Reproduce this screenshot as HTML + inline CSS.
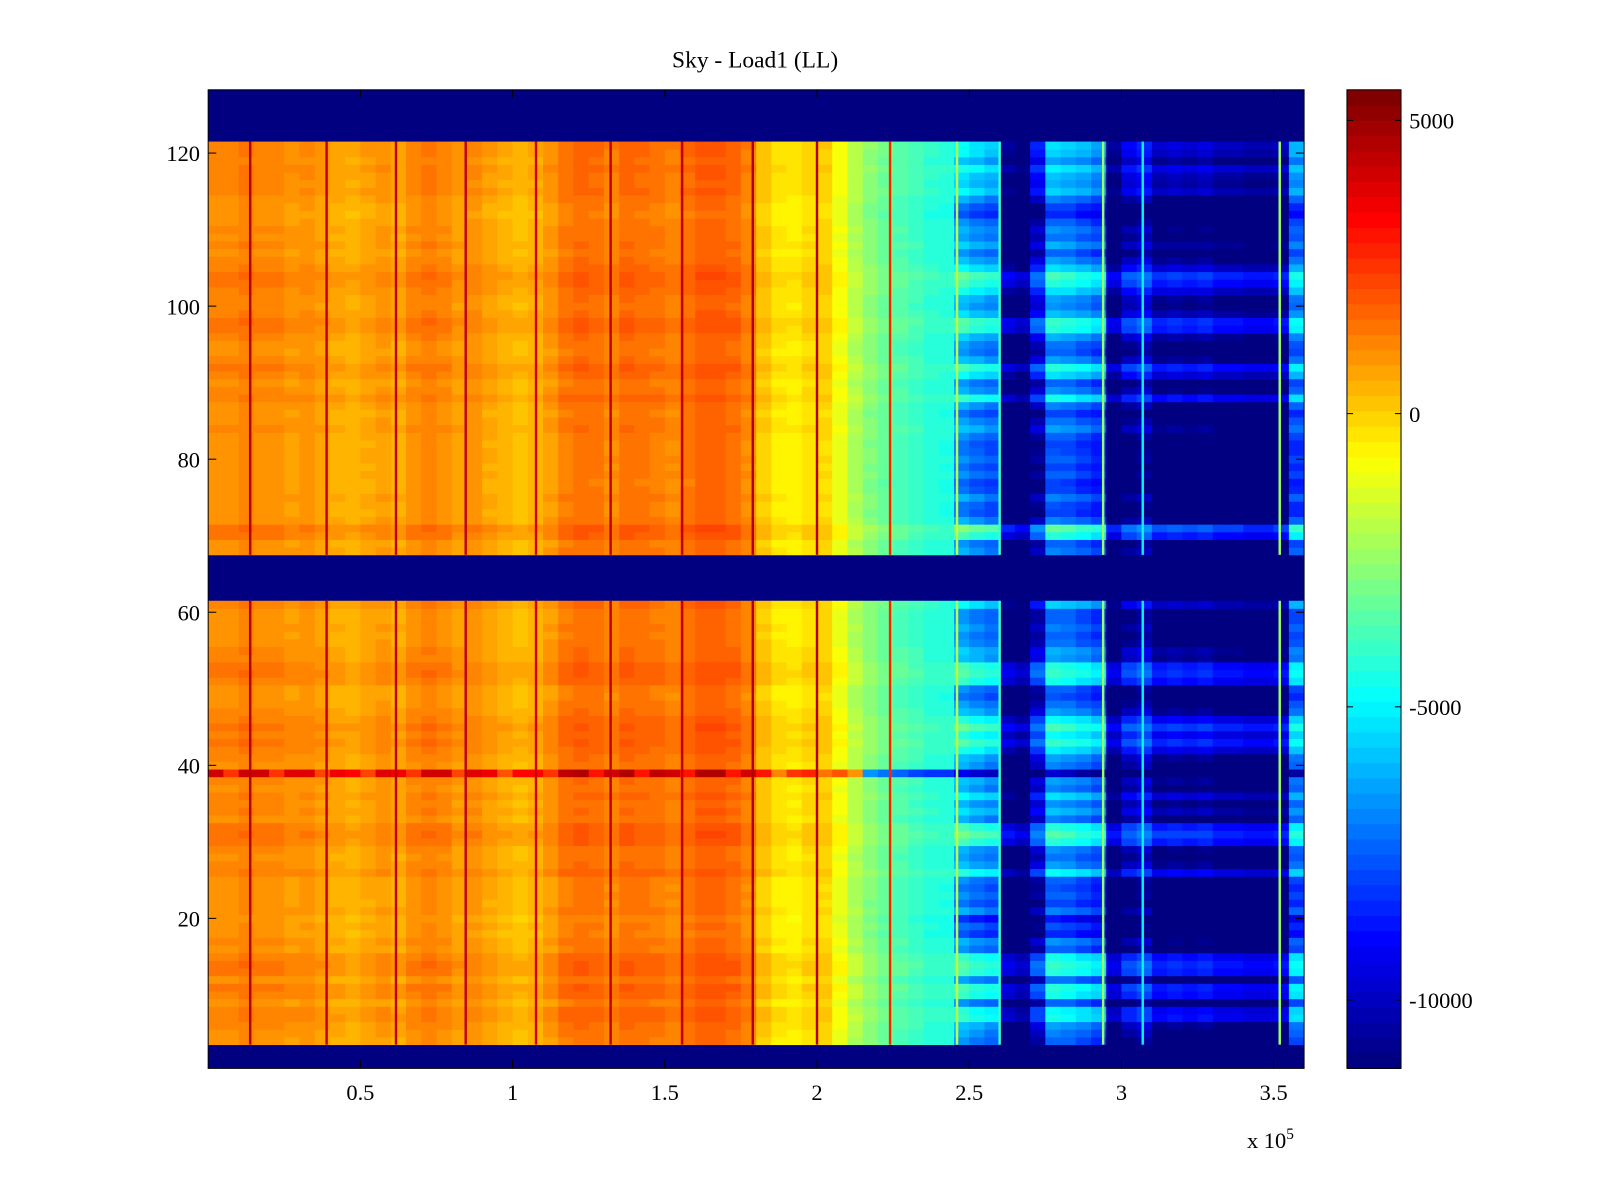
<!DOCTYPE html>
<html><head><meta charset="utf-8"><style>
html,body{margin:0;padding:0;background:#fff;}
svg{display:block;font-family:"Liberation Serif",serif;}
</style></head><body>
<svg id="chart" width="1600" height="1200" viewBox="0 0 1568 1176" preserveAspectRatio="none" xmlns="http://www.w3.org/2000/svg">
<rect width="1568" height="1176" fill="#fff"/>
<text x="740" y="66" font-size="23" text-anchor="middle">Sky - Load1 (LL)</text>
<g id="cells"></g>
<g id="stripes"></g>
<rect x="204" y="88" width="1074" height="959" fill="none" stroke="#000" stroke-width="1"/>
<g id="axes"></g>
<g id="cbar"></g>
<text x="1222" y="1125" font-size="22">x 10<tspan dy="-9" font-size="15">5</tspan></text>
</svg>
<script>
// x bins: 72 columns of 0.05e5 starting at 0
const colBase = [1200,1200,1400,1200,1200,1000,1100,900,700,600,800,1000,700,1200,1400,1200,900,1100,800,600,400,600,1000,1500,1700,1600,1300,1700,1600,1500,1300,1600,1900,1900,1700,1300,200,-300,-400,-100,0,-900,-1900,-2600,-3100,-3500,-3800,-4100,-4200,-5200,-5700,-6000,-11000,-11500,-9000,-5800,-6000,-6400,-6800,-11000,-9500,-9000,-10200,-10000,-10200,-10000,-10500,-10500,-10800,-10800,-10500,-6500];
// row offsets, index 0 => row 1 ... index 127 => row 128; null = no data
const rowOffset = [null,null,null,-1500,-1000,-500,1200,1000,-1500,1200,1500,-1200,1500,1800,1200,-1500,-800,-2500,-1800,-3000,-1000,-2000,-1500,-1800,-1500,1000,-600,-1200,-800,1500,2200,1500,-1000,0,-800,500,-1000,-500,-4000,-1000,-500,800,1800,1000,2000,1000,-500,-1200,-1800,-1500,1200,1800,1500,-500,-300,-1200,-1500,-1000,-1500,-1500,300,null,null,null,null,null,null,-1000,-1500,1500,2500,-1000,-2000,-1800,-1000,-2000,-2200,-1500,-2000,-1500,-1800,-2000,-1500,-500,-1200,-2000,-1000,1200,-800,-1500,500,1500,-500,-1500,-1200,-300,1500,1800,0,-800,-500,600,1500,2000,500,-600,-1500,-400,-1200,-800,-1500,-2500,-2000,-1000,300,-300,0,800,-500,300,500,null,null,null,null,null,null,null];
// accent rows (hot row on the left region)
const rowAccent = {39: 2800};
// thin vertical stripes: x position (x 10^5) and value
const stripeX = [0.138,0.389,0.617,0.846,1.077,1.322,1.557,1.789,2.0,2.24,2.46,2.60,2.94,3.07,3.52];
const stripeVal = [4500,4300,4300,4300,4200,4300,4300,4700,4500,2800,-2000,-4000,-2500,-5000,-2500];
const xTicks = [0.5,1,1.5,2,2.5,3,3.5];
const yTicks = [20,40,60,80,100,120];
const cbTicks = [5000,0,-5000,-10000];
const cMin = -11165, cMax = 5522;

const NS = "http://www.w3.org/2000/svg";
const X0 = 204, X1 = 1278, Y0 = 88, Y1 = 1047;
const xScale = v => X0 + v / 3.6 * (X1 - X0);
const yScale = v => 1050 - v * 7.5;
const cScale = v => Y1 - (v - cMin) / (cMax - cMin) * (Y1 - Y0);
function jet(v) {
  let f = (v - cMin) / (cMax - cMin);
  f = Math.max(0, Math.min(1, f));
  f = Math.min(63, Math.floor(f * 64)) / 63;
  const cl = t => Math.round(255 * Math.max(0, Math.min(1, t)));
  return `rgb(${cl(1.5 - Math.abs(4 * f - 3))},${cl(1.5 - Math.abs(4 * f - 2))},${cl(1.5 - Math.abs(4 * f - 1))})`;
}
function mk(tag, attrs, parent) {
  const e = document.createElementNS(NS, tag);
  for (const k in attrs) e.setAttribute(k, attrs[k]);
  parent.appendChild(e);
  return e;
}
const cells = document.getElementById('cells');
mk('rect', {x: X0, y: Y0, width: X1 - X0, height: Y1 - Y0, fill: jet(cMin)}, cells);
for (let r = 0; r < rowOffset.length; r++) {
  const off = rowOffset[r];
  if (off === null) continue;
  const row = r + 1;
  const acc = rowAccent[row] || 0;
  const yTop = Math.max(Y0, yScale(row + 0.5)), yBot = Math.min(Y1, yScale(row - 0.5));
  for (let c = 0; c < colBase.length; c++) {
    const b = colBase[c];
    let v = b + off * (b < -5000 ? 1 : 0.12);
    if (acc && b > -2000) v = b + acc * (c % 3 === 1 ? 0.5 : 1);
    if (acc && b <= -2000) v = b + off;
    const xa = xScale(c * 0.05), xb = xScale((c + 1) * 0.05);
    const el = mk('rect', {x: xa.toFixed(2), y: yTop.toFixed(2), width: (xb - xa + 0.4).toFixed(2), height: (yBot - yTop + 0.4).toFixed(2), fill: jet(v)}, cells);
    
    
  }
}
const stripes = document.getElementById('stripes');
const bands = [[3.5, 61.5], [67.5, 121.5]];
for (let i = 0; i < stripeX.length; i++) {
  for (const bd of bands) {
    const el = mk('rect', {x: (xScale(stripeX[i]) - 1.2).toFixed(2), y: yScale(bd[1]).toFixed(2), width: 2.4, height: (yScale(bd[0]) - yScale(bd[1])).toFixed(2), fill: jet(stripeVal[i])}, stripes);
    
    
  }
}
const axes = document.getElementById('axes');
for (const t of xTicks) {
  const x = xScale(t);
  mk('line', {x1: x, x2: x, y1: Y1, y2: Y1 - 8, stroke: '#000'}, axes);
  mk('line', {x1: x, x2: x, y1: Y0, y2: Y0 + 8, stroke: '#000'}, axes);
  const tx = mk('text', {x: x, y: 1078, 'font-size': 22, 'text-anchor': 'middle'}, axes);
  tx.textContent = t;
  
  
}
for (const t of yTicks) {
  const y = yScale(t);
  mk('line', {x1: X0, x2: X0 + 8, y1: y, y2: y, stroke: '#000'}, axes);
  mk('line', {x1: X1, x2: X1 - 8, y1: y, y2: y, stroke: '#000'}, axes);
  const tx = mk('text', {x: 196, y: y + 8, 'font-size': 22, 'text-anchor': 'end'}, axes);
  tx.textContent = t;
  
  
}
const cbar = document.getElementById('cbar');
const CX0 = 1320, CX1 = 1373;
for (let i = 0; i < 64; i++) {
  const va = cMin + i / 64 * (cMax - cMin), vb = cMin + (i + 1) / 64 * (cMax - cMin);
  const el = mk('rect', {x: CX0, y: cScale(vb).toFixed(2), width: CX1 - CX0, height: (cScale(va) - cScale(vb) + 0.5).toFixed(2), fill: jet((va + vb) / 2)}, cbar);
  
  
}
mk('rect', {x: CX0, y: Y0, width: CX1 - CX0, height: Y1 - Y0, fill: 'none', stroke: '#000'}, cbar);
for (const t of cbTicks) {
  const y = cScale(t);
  mk('line', {x1: CX0, x2: CX0 + 6, y1: y, y2: y, stroke: '#000'}, cbar);
  mk('line', {x1: CX1, x2: CX1 - 6, y1: y, y2: y, stroke: '#000'}, cbar);
  const tx = mk('text', {x: 1381, y: y + 8, 'font-size': 22}, cbar);
  tx.textContent = t;
  
  
}
</script>
</body></html>
